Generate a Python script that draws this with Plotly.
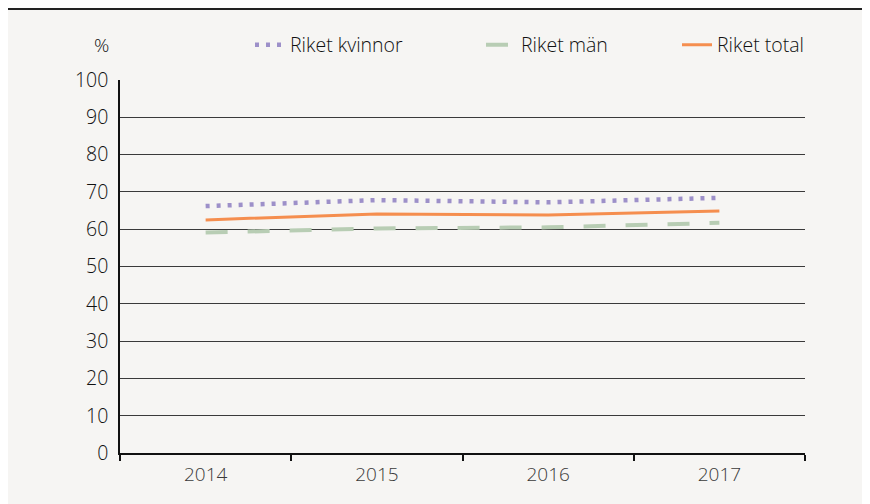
import plotly.graph_objects as go

years = ["2014", "2015", "2016", "2017"]
kvinnor = [66.2, 67.8, 67.2, 68.4]
man = [59.1, 60.2, 60.5, 61.7]
total = [62.5, 64.1, 63.8, 64.9]
yticks = list(range(0, 101, 10))

BG = "#F6F5F3"
W, H = 870, 504
OFF = 8  # page offset of the figure (body margin)
L, R, T, B = 112, 73, 72, 59
pw, ph = W - L - R, H - T - B
FONT = "Open Sans, sans-serif"

def px_x(x):  # page pixel -> paper
    return (x - OFF - L) / pw

def px_y(y):
    return (H - B - (y - OFF)) / ph

fig = go.Figure()
fig.add_trace(go.Scatter(x=years, y=kvinnor, name="Riket kvinnor", mode="lines",
                         line=dict(color="#9D90C9", width=4.5, dash="4px,7px"), legend="legend"))
fig.add_trace(go.Scatter(x=years, y=man, name="Riket män", mode="lines",
                         line=dict(color="#B8CDB4", width=4, dash="22px,20px"), legend="legend2"))
fig.add_trace(go.Scatter(x=years, y=total, name="Riket total", mode="lines",
                         line=dict(color="#F58E4F", width=3), legend="legend3"))

legfont = dict(family=FONT, size=19.5, color="#111111", weight=300)
common = dict(orientation="h", bgcolor="rgba(0,0,0,0)", font=legfont,
              xanchor="left", yanchor="middle", y=px_y(45), borderwidth=0)

fig.update_layout(
    width=W, height=H, showlegend=True,
    margin=dict(l=L, r=R, t=T, b=B),
    paper_bgcolor=BG, plot_bgcolor=BG,
    legend=dict(x=px_x(250), **common),
    legend2=dict(x=px_x(481), **common),
    legend3=dict(x=px_x(677), **common),
    xaxis=dict(type="category", tickson="boundaries", ticks="outside", ticklen=6,
               tickwidth=1.5, tickcolor="#111111", showline=True, linecolor="#111111",
               linewidth=2, showgrid=False, range=[-0.5, 3.5], ticklabelstandoff=3,
               tickfont=dict(family=FONT, size=19, color="#3a3a3a", weight=300)),
    yaxis=dict(range=[0, 100], tickvals=yticks, showgrid=True, gridcolor="#3a3a3a",
               gridwidth=1, showline=True, linecolor="#111111", linewidth=1.5,
               zeroline=False, ticks="", ticklabelstandoff=6,
               tickfont=dict(family=FONT, size=19.5, color="#111111", weight=300)),
    annotations=[dict(text="%", xref="paper", yref="paper", x=px_x(101), y=px_y(45),
                      showarrow=False, xanchor="center", yanchor="middle",
                      font=dict(family=FONT, size=19, color="#111111", weight=300))],
    shapes=[dict(type="line", xref="paper", yref="paper", x0=px_x(OFF), x1=px_x(870 + OFF),
                 y0=px_y(OFF + 1), y1=px_y(OFF + 1), line=dict(color="#222222", width=2))],
)

fig.write_html("out.html")
